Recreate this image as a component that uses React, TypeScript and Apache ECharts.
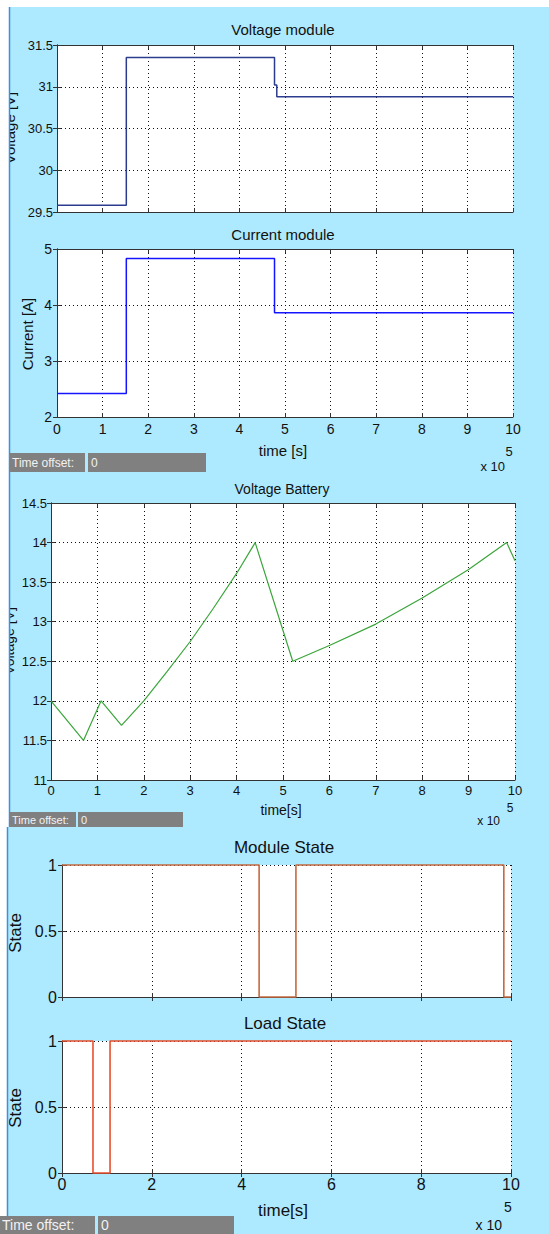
import React, { useEffect, useRef } from "react";
import * as echarts from "echarts";

// ---- data (time in units of 1e5 s) ----
const voltageModuleT = [0, 1.52, 4.77, 4.82, 10];
const voltageModuleV = [29.58, 31.35, 31.02, 30.88, 30.88];

const currentModuleT = [0, 1.52, 4.77, 10];
const currentModuleA = [2.42, 4.83, 3.86, 3.86];

const batteryT = [0, 0.7, 1.08, 1.52, 2, 2.5, 3, 3.5, 4, 4.4, 5.21, 6, 7, 8, 9, 9.82, 10];
const batteryV = [12.0, 11.5, 12.0, 11.69, 12.0, 12.37, 12.75, 13.17, 13.61, 14.0, 12.5, 12.7, 12.97, 13.3, 13.66, 14.0, 13.77];

const moduleStateT = [0, 4.39, 5.21, 9.84, 10];
const moduleStateV = [1, 0, 1, 0, 0];

const loadStateT = [0, 0.69, 1.07, 10];
const loadStateV = [1, 0, 1, 1];

const FONT = "Liberation Sans";
const FRAME = "#333";
const INK = "#111";

function zip(t: number[], v: number[]) {
  return t.map((x, i) => [x, v[i]]);
}

type Panel = {
  grid: { left: number; top: number; width: number; height: number };
  xInterval: number;
  xLabels: boolean;
  xFont: number;
  xMargin: number;
  yMin: number;
  yMax: number;
  yInterval: number;
  yFont: number;
  yMargin: number;
  data: number[][];
  step: boolean;
  color: string;
  width: number;
};

const panels: Panel[] = [
  {
    grid: { left: 57, top: 45, width: 456, height: 167 },
    xInterval: 1, xLabels: false, xFont: 13, xMargin: 5,
    yMin: 29.5, yMax: 31.5, yInterval: 0.5, yFont: 13, yMargin: 4,
    data: zip(voltageModuleT, voltageModuleV), step: true, color: "#2c3d8f", width: 1.5,
  },
  {
    grid: { left: 57, top: 249, width: 456, height: 168 },
    xInterval: 1, xLabels: true, xFont: 14, xMargin: 5,
    yMin: 2, yMax: 5, yInterval: 1, yFont: 14, yMargin: 5,
    data: zip(currentModuleT, currentModuleA), step: true, color: "#1414ff", width: 1.5,
  },
  {
    grid: { left: 51, top: 503, width: 464, height: 277 },
    xInterval: 1, xLabels: true, xFont: 13, xMargin: 4,
    yMin: 11, yMax: 14.5, yInterval: 0.5, yFont: 13, yMargin: 4,
    data: zip(batteryT, batteryV), step: false, color: "#3aa53a", width: 1.2,
  },
  {
    grid: { left: 62, top: 865, width: 449, height: 132 },
    xInterval: 2, xLabels: false, xFont: 16, xMargin: 3,
    yMin: 0, yMax: 1, yInterval: 0.5, yFont: 16, yMargin: 5,
    data: zip(moduleStateT, moduleStateV), step: true, color: "#c46a40", width: 1.6,
  },
  {
    grid: { left: 62, top: 1041, width: 449, height: 132 },
    xInterval: 2, xLabels: true, xFont: 16, xMargin: 3,
    yMin: 0, yMax: 1, yInterval: 0.5, yFont: 16, yMargin: 5,
    data: zip(loadStateT, loadStateV), step: true, color: "#e8502f", width: 1.6,
  },
];

function txt(text: string, x: number, y: number, size: number, opts: any = {}) {
  return {
    type: "text",
    x,
    y,
    z: opts.z ?? 10,
    rotation: opts.rotation ?? 0,
    silent: true,
    style: {
      text,
      fill: opts.fill ?? INK,
      font: `${size}px "${FONT}"`,
      textAlign: opts.align ?? "center",
      textVerticalAlign: "middle",
    },
  };
}

function rect(x: number, y: number, w: number, h: number, fill: string, z = 5) {
  return { type: "rect", z, silent: true, shape: { x, y, width: w, height: h }, style: { fill } };
}

function offsetBox(x: number, y: number, w1: number, gap: number, w2: number, h: number, size: number) {
  return [
    rect(x, y, w1, h, "#808080", 20),
    rect(x + w1 + gap, y, w2, h, "#808080", 20),
    txt("Time offset:", x + 2, y + h / 2, size, { align: "left", fill: "#f2f2f2", z: 21 }),
    txt("0", x + w1 + gap + 3, y + h / 2, size, { align: "left", fill: "#f2f2f2", z: 21 }),
  ];
}

function buildOption() {
  const grids: any[] = [];
  const xAxes: any[] = [];
  const yAxes: any[] = [];
  const series: any[] = [];
  const tick = { show: true, inside: true, length: 4, lineStyle: { color: FRAME } };
  const axisLine = { show: true, lineStyle: { color: FRAME, width: 1 } };
  const split = { show: true, lineStyle: { color: "#111", type: [1, 3], width: 1 } };

  panels.forEach((p, gi) => {
    grids.push({ ...p.grid, show: true, backgroundColor: "#ffffff", borderWidth: 0, containLabel: false });
    const xb = xAxes.length;
    xAxes.push({
      type: "value", gridIndex: gi, position: "bottom", min: 0, max: 10, interval: p.xInterval,
      axisLine, axisTick: tick,
      axisLabel: { show: p.xLabels, fontSize: p.xFont, color: INK, fontFamily: FONT, margin: p.xMargin },
      splitLine: split,
    });
    xAxes.push({
      type: "value", gridIndex: gi, position: "top", min: 0, max: 10, interval: p.xInterval,
      axisLine, axisTick: tick, axisLabel: { show: false }, splitLine: { show: false },
    });
    const yl = yAxes.length;
    yAxes.push({
      type: "value", gridIndex: gi, position: "left", min: p.yMin, max: p.yMax, interval: p.yInterval,
      axisLine, axisTick: tick,
      axisLabel: { show: true, fontSize: p.yFont, color: INK, fontFamily: FONT, margin: p.yMargin },
      splitLine: split,
    });
    yAxes.push({
      type: "value", gridIndex: gi, position: "right", min: p.yMin, max: p.yMax, interval: p.yInterval,
      axisLine, axisTick: tick, axisLabel: { show: false }, splitLine: { show: false },
    });
    series.push({
      type: "line", xAxisIndex: xb, yAxisIndex: yl, data: p.data,
      step: p.step ? "end" : false, symbol: "none", showSymbol: false, clip: false, silent: true,
      lineStyle: { color: p.color, width: p.width },
      z: 5,
    });
  });

  const graphic: any[] = [
    // titles
    txt("Voltage module", 283, 29, 15),
    txt("Current module", 283, 234, 15),
    txt("Voltage Battery", 282, 489, 14),
    txt("Module State", 284, 847, 17),
    txt("Load State", 285, 1023, 17),
    // x axis names
    txt("time [s]", 283, 450, 15),
    txt("time[s]", 281, 810, 14),
    txt("time[s]", 283, 1210, 17),
    // exponents
    txt("x 10", 505, 466, 13, { align: "right" }),
    txt("5", 509, 451, 13),
    txt("x 10", 500, 821, 12, { align: "right" }),
    txt("5", 510, 808, 12),
    txt("x 10", 502, 1225, 14, { align: "right" }),
    txt("5", 508, 1207, 14),
    // y axis names
    txt("Voltage [V]", 9, 128, 15, { rotation: Math.PI / 2 }),
    txt("Current [A]", 27, 334, 15, { rotation: Math.PI / 2 }),
    txt("Voltage [V]", 9, 641, 14, { rotation: Math.PI / 2 }),
    txt("State", 15, 933, 17, { rotation: Math.PI / 2 }),
    txt("State", 15, 1108, 17, { rotation: Math.PI / 2 }),
    // left white margin clipping and window edge lines
    rect(0, 0, 9, 827, "#ffffff", 15),
    { type: "line", z: 16, silent: true, shape: { x1: 9.5, y1: 7, x2: 9.5, y2: 827 }, style: { stroke: "#3d8fe0", lineWidth: 1.5 } },
    { type: "line", z: 16, silent: true, shape: { x1: 7.5, y1: 827, x2: 7.5, y2: 1234 }, style: { stroke: "#3d8fe0", lineWidth: 1.5 } },
    ...offsetBox(10, 453, 75, 3, 118, 19, 12),
    ...offsetBox(10, 812, 66, 2, 105, 15, 11),
    ...offsetBox(0, 1216, 95, 3, 136, 18, 14),
  ];

  return {
    animation: false,
    backgroundColor: "transparent",
    grid: grids,
    xAxis: xAxes,
    yAxis: yAxes,
    series,
    graphic,
  };
}

export default function App() {
  const ref = useRef<HTMLDivElement>(null);
  useEffect(() => {
    document.body.style.margin = "0";
    if (!ref.current) return;
    const chart = echarts.init(ref.current, undefined, { renderer: "svg", width: 549, height: 1234 });
    chart.setOption(buildOption() as any);
    return () => chart.dispose();
  }, []);

  return (
    <div style={{ position: "absolute", left: 0, top: 0, width: 549, height: 1234, background: "#ffffff" }}>
      <div style={{ position: "absolute", left: 10, top: 7, width: 539, height: 820, background: "#aeeaff" }} />
      <div style={{ position: "absolute", left: 8, top: 827, width: 541, height: 407, background: "#aeeaff" }} />
      <div ref={ref} style={{ position: "absolute", left: 0, top: 0, width: 549, height: 1234 }} />
    </div>
  );
}
